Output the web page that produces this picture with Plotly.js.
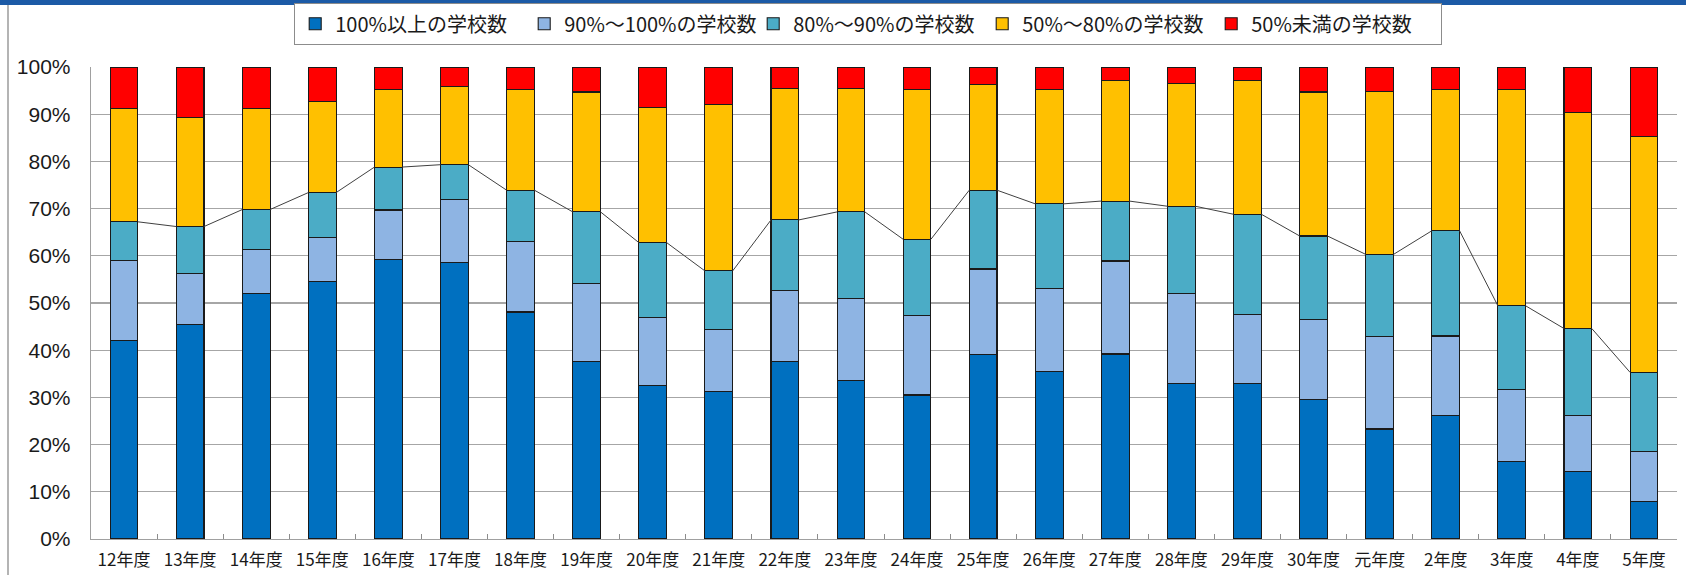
<!DOCTYPE html>
<html>
<head>
<meta charset="utf-8">
<script src="https://cdn.plot.ly/plotly-3.0.1.min.js"></script>
<style>html,body{margin:0;padding:0;background:#fff;}#chart{width:1686px;height:575px;}</style>
</head>
<body>
<div id="chart"></div>
<script>
const categories = ["12年度","13年度","14年度","15年度","16年度","17年度","18年度","19年度","20年度","21年度","22年度","23年度","24年度","25年度","26年度","27年度","28年度","29年度","30年度","元年度","2年度","3年度","4年度","5年度"];

const seriesNames = ["100%以上の学校数","90%～100%の学校数","80%～90%の学校数","50%～80%の学校数","50%未満の学校数"];

const over100   = [42.1,45.5,52.0,54.6,59.2,58.5,48.1,37.7,32.6,31.2,37.6,33.5,30.5,39.0,35.5,39.2,33.0,32.9,29.6,23.3,26.1,16.4,14.3,8.0];
const from90    = [17.0,10.8,9.4,9.2,10.5,13.5,14.9,16.5,14.3,13.1,15.1,17.5,16.8,18.2,17.6,19.7,19.0,14.7,16.9,19.6,16.9,15.2,11.9,10.5];
const from80    = [8.1,9.9,8.4,9.6,9.1,7.3,10.9,15.1,15.9,12.5,14.9,18.3,16.2,16.7,17.9,12.7,18.5,21.2,17.7,17.4,22.3,17.8,18.4,16.8];
const from50    = [24.0,23.1,21.4,19.2,16.4,16.6,21.3,25.4,28.7,35.3,27.8,26.1,31.7,22.4,24.2,25.6,26.0,28.3,30.5,34.6,29.9,45.8,45.7,49.9];
const under50   = [8.8,10.7,8.8,7.4,4.8,4.1,4.8,5.3,8.5,7.9,4.6,4.6,4.8,3.7,4.8,2.8,3.5,2.9,5.3,5.1,4.8,4.8,9.7,14.8];

const yTicks = [0,10,20,30,40,50,60,70,80,90,100];

const colors = ["#0070c0","#8eb4e3","#4bacc6","#ffc000","#ff0000"];
const seriesValues = [over100, from90, from80, from50, under50];

const bargap = 0.58;
const halfW = (1 - bargap) / 2;

const traces = seriesValues.map((vals, k) => ({
  type: "bar",
  name: seriesNames[k],
  x: categories,
  y: vals,
  marker: {color: colors[k], line: {color: "#1a1a1a", width: 1.1}},
  hoverinfo: "x+y+name"
}));

// series line connecting the tops of the 80%+ cumulative share
const cum80 = categories.map((c, i) => over100[i] + from90[i] + from80[i]);
const lx = [], ly = [];
for (let i = 0; i < categories.length - 1; i++) {
  lx.push(i + halfW, i + 1 - halfW, null);
  ly.push(cum80[i], cum80[i + 1], null);
}
traces.push({
  type: "scatter",
  mode: "lines",
  x: lx, y: ly,
  xaxis: "x2", yaxis: "y",
  line: {color: "#404040", width: 1},
  showlegend: false,
  hoverinfo: "skip",
  connectgaps: false
});

const W = 1686, H = 575;
const mL = 91, mR = 9, mT = 67, mB = 36;
const pw = W - mL - mR, ph = H - mT - mB;

const layout = {
  width: W, height: H,
  margin: {l: mL, r: mR, t: mT, b: mB, pad: 0},
  paper_bgcolor: "#ffffff",
  plot_bgcolor: "#ffffff",
  barmode: "stack",
  bargap: bargap,
  showlegend: true,
  legend: {
    orientation: "h",
    xref: "container", yref: "container",
    x: 294 / W, y: 1 - 3 / H,
    xanchor: "left", yanchor: "top",
    bordercolor: "#8c8c8c", borderwidth: 1.2,
    bgcolor: "#ffffff",
    font: {family: "Noto Sans CJK JP, sans-serif", size: 20, color: "#1a1a1a"},
    entrywidth: 184, entrywidthmode: "pixels",
    traceorder: "normal",
    itemwidth: 30
  },
  xaxis: {
    type: "category",
    range: [-0.5, categories.length - 0.5],
    tickson: "boundaries",
    ticks: "inside", ticklen: 5, tickwidth: 1, tickcolor: "#8c8c8c",
    showline: true, linecolor: "#a0a0a0", linewidth: 1.3,
    showgrid: false, zeroline: false,
    tickfont: {family: "Noto Sans CJK JP, sans-serif", size: 17, color: "#1a1a1a"},
    ticklabelstandoff: 5,
    fixedrange: true
  },
  xaxis2: {
    overlaying: "x", anchor: "y",
    range: [-0.5, categories.length - 0.5],
    visible: false, fixedrange: true
  },
  yaxis: {
    range: [0, 100],
    tickvals: yTicks,
    ticktext: yTicks.map(v => v + "%"),
    ticks: "",
    showline: true, linecolor: "#a0a0a0", linewidth: 1.3,
    showgrid: true, gridcolor: "#a6a6a6", gridwidth: 1.3,
    zeroline: false,
    tickfont: {family: "Liberation Sans, Arial, sans-serif", size: 21, color: "#1a1a1a"},
    ticklabelstandoff: 15,
    fixedrange: true
  },
  shapes: [
    {type: "rect", xref: "paper", yref: "paper",
     x0: -mL / pw, x1: 1 + mR / pw, y0: 1 + (mT - 5) / ph, y1: 1 + mT / ph,
     fillcolor: "#1c5aa6", line: {width: 0}, layer: "above"},
    {type: "line", xref: "paper", yref: "paper",
     x0: (8 - mL) / pw, x1: (8 - mL) / pw, y0: -mB / ph, y1: 1 + (mT - 5) / ph,
     line: {color: "#8c8c8c", width: 1.3}}
  ]
};

Plotly.newPlot("chart", traces, layout, {displayModeBar: false, staticPlot: true});
</script>
</body>
</html>
